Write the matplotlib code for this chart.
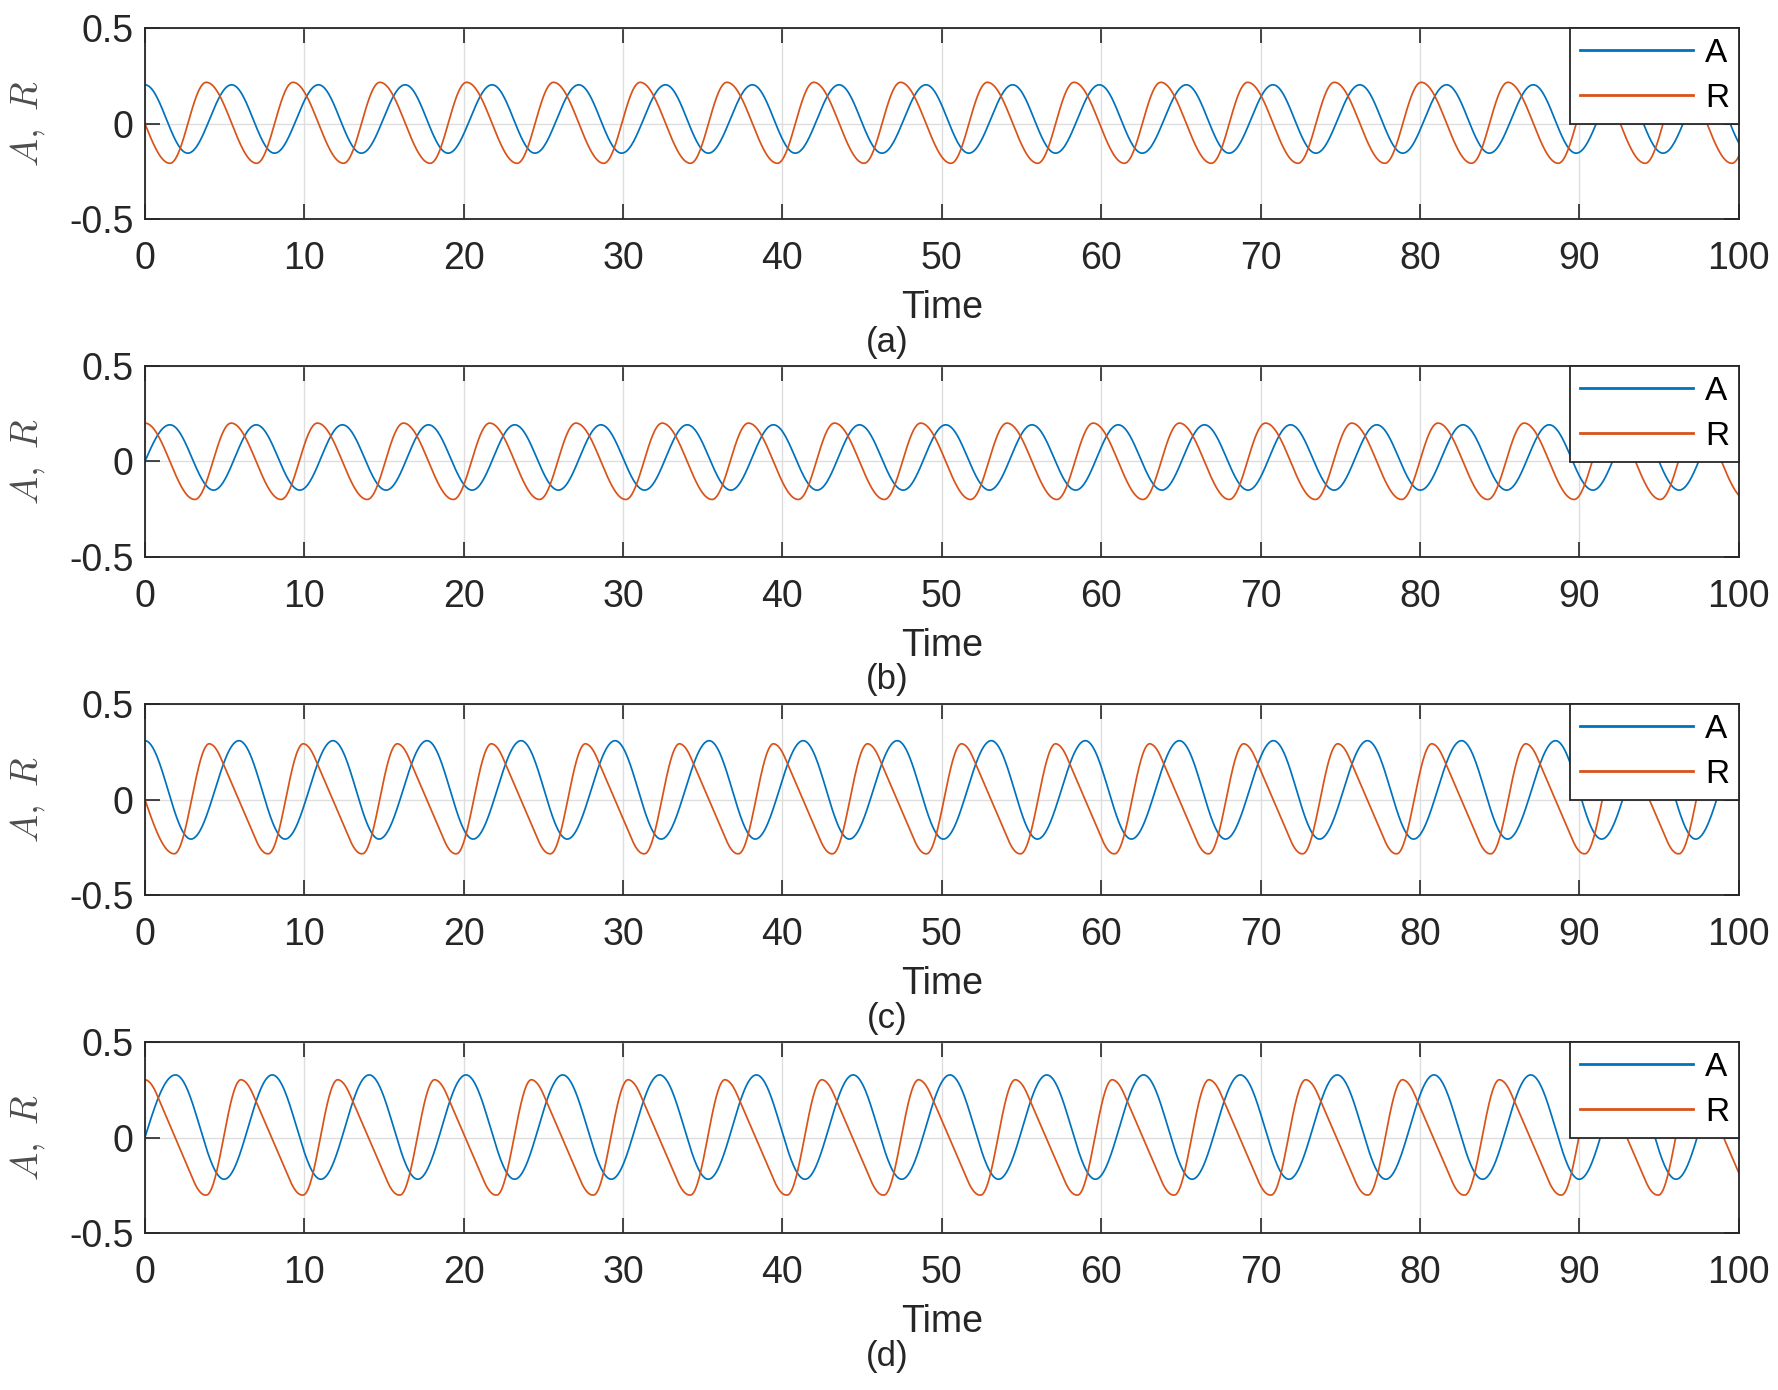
import numpy as np
import matplotlib.pyplot as plt

plt.rcParams['font.family'] = ['Liberation Sans', 'DejaVu Sans']
plt.rcParams['mathtext.fontset'] = 'cm'
plt.rcParams['axes.unicode_minus'] = False

#~~~~~~~~~~~~~~~~~~~~~~~~~~~~~~~~~~~~~~~#
#	DATA		#
#~~~~~~~~~~~~~~~~~~~~~~~~~~~~~~~~~~~~~~~#
panel_tags = ['(a)', '(b)', '(c)', '(d)']
x_ticks = [0, 10, 20, 30, 40, 50, 60, 70, 80, 90, 100]
y_ticks = [-0.5, 0, 0.5]
y_tick_labels = ['-0.5', '0', '0.5']

# (a)
A_peak_t_a = [0.0, 5.44, 10.89, 16.33, 21.78, 27.22, 32.66, 38.11, 43.55, 49.0, 54.44, 59.88, 65.33, 70.77, 76.22, 81.66, 87.1, 92.55, 97.99]
A_trough_t_a = [2.69, 8.13, 13.58, 19.02, 24.47, 29.91, 35.35, 40.8, 46.24, 51.69, 57.13, 62.57, 68.02, 73.46, 78.91, 84.35, 89.79, 95.24, 100.68]
R_peak_t_a = [3.85, 9.29, 14.74, 20.18, 25.63, 31.07, 36.51, 41.96, 47.4, 52.85, 58.29, 63.73, 69.18, 74.62, 80.07, 85.51, 90.95, 96.4, 101.84]
R_trough_t_a = [1.57, 7.01, 12.46, 17.9, 23.35, 28.79, 34.23, 39.68, 45.12, 50.57, 56.01, 61.45, 66.9, 72.34, 77.79, 83.23, 88.67, 94.12, 99.56]
A_levels_a = [0.203, -0.155]	# peak, trough
R_levels_a = [0.216, -0.208]
A_start_a = 0.203
R_start_a = 0.0

# (b)
A_peak_t_b = [1.57, 6.98, 12.39, 17.79, 23.2, 28.61, 34.02, 39.43, 44.83, 50.24, 55.65, 61.06, 66.47, 71.87, 77.28, 82.69, 88.1, 93.51, 98.91]
A_trough_t_b = [4.31, 9.72, 15.13, 20.53, 25.94, 31.35, 36.76, 42.17, 47.57, 52.98, 58.39, 63.8, 69.21, 74.61, 80.02, 85.43, 90.84, 96.25, 101.65]
R_peak_t_b = [0.0, 5.41, 10.82, 16.22, 21.63, 27.04, 32.45, 37.86, 43.26, 48.67, 54.08, 59.49, 64.9, 70.3, 75.71, 81.12, 86.53, 91.94, 97.34, 102.75]
R_trough_t_b = [3.13, 8.54, 13.95, 19.35, 24.76, 30.17, 35.58, 40.99, 46.39, 51.8, 57.21, 62.62, 68.03, 73.43, 78.84, 84.25, 89.66, 95.07, 100.47]
A_levels_b = [0.192, -0.150]
R_levels_b = [0.201, -0.199]
A_start_b = 0.0
R_start_b = 0.201

# (c)
A_peak_t_c = [0.0, 5.9, 11.8, 17.7, 23.6, 29.5, 35.4, 41.3, 47.2, 53.1, 59.0, 64.9, 70.8, 76.7, 82.6, 88.5, 94.4, 100.3]
A_trough_t_c = [2.89, 8.79, 14.69, 20.59, 26.49, 32.39, 38.29, 44.19, 50.09, 55.99, 61.89, 67.79, 73.69, 79.59, 85.49, 91.39, 97.29]
R_peak_t_c = [4.04, 9.94, 15.84, 21.74, 27.64, 33.54, 39.44, 45.34, 51.24, 57.14, 63.04, 68.94, 74.84, 80.74, 86.64, 92.54, 98.44]
R_trough_t_c = [1.84, 7.74, 13.64, 19.54, 25.44, 31.34, 37.24, 43.14, 49.04, 54.94, 60.84, 66.74, 72.64, 78.54, 84.44, 90.34, 96.24, 102.14]
A_levels_c = [0.308, -0.207]
R_levels_c = [0.292, -0.284]
A_start_c = 0.308
R_start_c = 0.0

# (d)
A_peak_t_d = [1.92, 7.99, 14.07, 20.14, 26.21, 32.29, 38.36, 44.43, 50.5, 56.58, 62.65, 68.72, 74.8, 80.87, 86.94, 93.01, 99.09]
A_trough_t_d = [4.97, 11.04, 17.12, 23.19, 29.26, 35.34, 41.41, 47.48, 53.55, 59.63, 65.7, 71.77, 77.85, 83.92, 89.99, 96.06, 102.14]
R_peak_t_d = [0.0, 6.03, 12.1, 18.18, 24.25, 30.32, 36.39, 42.47, 48.54, 54.61, 60.69, 66.76, 72.83, 78.9, 84.98, 91.05, 97.12]
R_trough_t_d = [3.85, 9.92, 16.0, 22.07, 28.14, 34.22, 40.29, 46.36, 52.43, 58.51, 64.58, 70.65, 76.73, 82.8, 88.87, 94.95, 101.02]
A_levels_d = [0.328, -0.218]
R_levels_d = [0.303, -0.301]
A_start_d = 0.0
R_start_d = 0.303

panels = [
	(A_peak_t_a, A_trough_t_a, A_levels_a, A_start_a, R_peak_t_a, R_trough_t_a, R_levels_a, R_start_a, None),
	(A_peak_t_b, A_trough_t_b, A_levels_b, A_start_b, R_peak_t_b, R_trough_t_b, R_levels_b, R_start_b, None),
	(A_peak_t_c, A_trough_t_c, A_levels_c, A_start_c, R_peak_t_c, R_trough_t_c, R_levels_c, R_start_c, 0.2),
	(A_peak_t_d, A_trough_t_d, A_levels_d, A_start_d, R_peak_t_d, R_trough_t_d, R_levels_d, R_start_d, 0.2),
]

col_A = '#0072BD'
col_R = '#D95319'
dark = '#262626'


def ease(n, ramp=None):
	# shape of one swing between two read extrema
	u = np.linspace(0, 1, n)
	if ramp is None:
		return (1 - np.cos(np.pi*u))/2
	d = np.clip(np.minimum(u, 1 - u)/ramp, 0, 1)
	s = np.cumsum(d)
	return (s - s[0])/(s[-1] - s[0])


def trace(peak_t, trough_t, levels, start, fall_ramp=None):
	knots = [(t, levels[0]) for t in peak_t] + [(t, levels[1]) for t in trough_t]
	knots.sort()
	first_is_extremum = knots[0][0] == 0.0
	if not first_is_extremum:
		knots.insert(0, (0.0, start))
	tt, yy = [], []
	for i in range(len(knots) - 1):
		t0, y0 = knots[i]
		t1, y1 = knots[i+1]
		n = 60
		if i == 0 and not first_is_extremum:
			s = np.sin(np.pi*np.linspace(0, 1, n)/2)
		elif y1 < y0:
			s = ease(n, fall_ramp)
		else:
			s = ease(n)
		tt.append(np.linspace(t0, t1, n)[:-1])
		yy.append((y0 + (y1 - y0)*s)[:-1])
	tt.append([knots[-1][0]])
	yy.append([knots[-1][1]])
	return np.concatenate(tt), np.concatenate(yy)


#~~~~~~~~~~~~~~~~~~~~~~~~~~~~~~~~~~~~~~~#
#	PLOT				#
#~~~~~~~~~~~~~~~~~~~~~~~~~~~~~~~~~~~~~~~#
fig = plt.figure(figsize=(17.78, 13.9), dpi=100)
bottoms = [0.8424, 0.5993, 0.3561, 0.1129]
ax_h = 0.1374
ax_h_px = ax_h*1390

for k, p in enumerate(panels):
	ax = fig.add_axes([0.0815, bottoms[k], 0.8965, ax_h])
	tA, yA = trace(p[0], p[1], p[2], p[3])
	tR, yR = trace(p[4], p[5], p[6], p[7], p[8])
	ax.plot(tA, yA, color=col_A, lw=1.25, label='A')
	ax.plot(tR, yR, color=col_R, lw=1.25, label='R')

	ax.set_xlim(0, 100)
	ax.set_ylim(-0.5, 0.5)
	ax.set_xticks(x_ticks)
	ax.set_yticks(y_ticks)
	ax.set_yticklabels(y_tick_labels)
	ax.set_axisbelow(True)
	ax.grid(True, color='#dedede', lw=1.0)
	ax.tick_params(direction='in', top=True, right=True, length=11, width=1.2,
			colors=dark, labelsize=27)
	ax.tick_params(axis='x', pad=16)
	ax.tick_params(axis='y', pad=8)
	for sp in ax.spines.values():
		sp.set_color(dark)
		sp.set_linewidth(1.3)

	ax.set_xlabel('Time', fontsize=27, color=dark, va='center')
	ax.xaxis.set_label_coords(0.5, -89/ax_h_px)
	ax.set_ylabel(r'$A,\ R$', fontsize=27, color='#4d4d4d', va='center')
	ax.yaxis.set_label_coords(-0.0734, 0.5)
	ax.text(0.4655, -123/ax_h_px, panel_tags[k], transform=ax.transAxes,
		ha='center', va='center', fontsize=25, color=dark)

	leg = ax.legend(loc='upper right', borderaxespad=0, fontsize=24, fancybox=False,
			edgecolor=dark, framealpha=1, handlelength=3.4, handletextpad=0.35,
			labelspacing=0.42, borderpad=0.3)
	leg.get_frame().set_linewidth(1.3)
	for ln in leg.get_lines():
		ln.set_linewidth(2.0)

plt.savefig('out.png', dpi=100)
